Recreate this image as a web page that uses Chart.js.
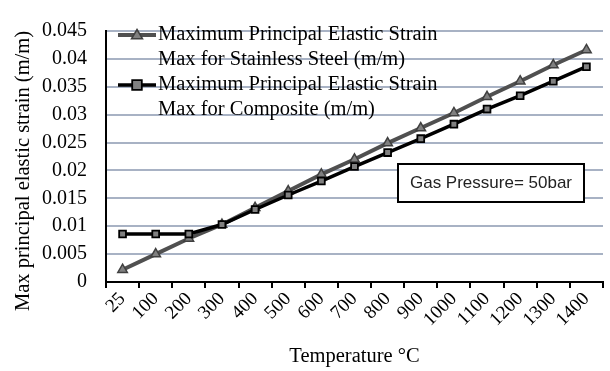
<!DOCTYPE html>
<html>
<head>
<meta charset="utf-8">
<script src="https://cdn.jsdelivr.net/npm/chart.js@4/dist/chart.umd.min.js"></script>
<style>
  html, body { margin: 0; padding: 0; background: #fff; }
  #wrap { width: 610px; height: 371px; }
</style>
</head>
<body>
<div id="wrap"><canvas id="strainChart" width="610" height="371"></canvas></div>
<script>
const temps = ['25', '100', '200', '300', '400', '500', '600', '700', '800', '900', '1000', '1100', '1200', '1300', '1400'];
const steelStrain = [0.0022, 0.0050, 0.0078, 0.0103, 0.0133, 0.0163, 0.0193, 0.0220, 0.0249, 0.0276, 0.0303, 0.0332, 0.0360, 0.0389, 0.0416];
const compositeStrain = [0.0086, 0.0086, 0.0086, 0.0103, 0.0130, 0.0156, 0.0181, 0.0207, 0.0232, 0.0257, 0.0283, 0.0310, 0.0334, 0.0360, 0.0386];
const legendLines = [
    ['Maximum Principal Elastic Strain', 'Max for Stainless Steel (m/m)'],
    ['Maximum Principal Elastic Strain', 'Max for Composite (m/m)']
];
const noteText = 'Gas Pressure= 50bar';
const yTitle = 'Max principal elastic strain (m/m)';

const serif = '"Liberation Serif", "Times New Roman", serif';

// legenda dentro l'area del grafico, titolo asse y e riquadro con la pressione
const overlayPlugin = {
    id: 'overlay',
    afterDatasetsDraw(chart) {
        const ctx = chart.ctx;
        const area = chart.chartArea;
        ctx.save();

        // titolo asse y (spostato verso il basso come nell'originale)
        ctx.save();
        ctx.translate(24, 171);
        ctx.rotate(-Math.PI / 2);
        ctx.fillStyle = '#000';
        ctx.font = '20.5px ' + serif;
        ctx.textAlign = 'center';
        ctx.textBaseline = 'middle';
        ctx.fillText(yTitle, 0, 0);
        ctx.restore();

        // riquadro "Gas Pressure"
        const bx = 398, by = 164, bw = 186, bh = 38;
        ctx.fillStyle = '#fff';
        ctx.fillRect(bx, by, bw, bh);
        ctx.strokeStyle = '#000';
        ctx.lineWidth = 2;
        ctx.strokeRect(bx, by, bw, bh);
        ctx.fillStyle = '#222';
        ctx.font = '17px "Liberation Sans", Arial, sans-serif';
        ctx.textAlign = 'center';
        ctx.textBaseline = 'middle';
        ctx.fillText(noteText, bx + bw / 2, by + bh / 2 + 0.5);

        // legenda
        const rows = [35, 85];
        chart.data.datasets.forEach((ds, i) => {
            const y = rows[i];
            const x0 = area.left + 12, x1 = area.left + 50;
            ctx.strokeStyle = ds.borderColor;
            ctx.lineWidth = ds.borderWidth;
            ctx.beginPath();
            ctx.moveTo(x0, y);
            ctx.lineTo(x1, y);
            ctx.stroke();
            ctx.fillStyle = ds.pointBackgroundColor;
            ctx.strokeStyle = ds.pointBorderColor;
            ctx.lineWidth = ds.pointBorderWidth;
            const cx = (x0 + x1) / 2, r = ds.pointRadius;
            ctx.beginPath();
            if (ds.pointStyle === 'triangle') {
                ctx.moveTo(cx, y - r);
                ctx.lineTo(cx + r, y + r * 0.7);
                ctx.lineTo(cx - r, y + r * 0.7);
                ctx.closePath();
            } else {
                ctx.rect(cx - r, y - r, r * 2, r * 2);
            }
            ctx.fill();
            ctx.stroke();
            ctx.fillStyle = '#000';
            ctx.font = '20.5px ' + serif;
            ctx.textAlign = 'left';
            ctx.textBaseline = 'middle';
            legendLines[i].forEach((t, k) => ctx.fillText(t, x1 + 2, y + k * 25));
        });
        ctx.restore();
    }
};

function drawChart() {
    const ctx = document.getElementById('strainChart').getContext('2d');
    new Chart(ctx, {
        type: 'line',
        data: {
            labels: temps,
            datasets: [{
                label: legendLines[0].join(' '),
                data: steelStrain,
                borderColor: '#505050',
                borderWidth: 4,
                pointStyle: 'triangle',
                pointRadius: 5.5,
                pointBackgroundColor: '#808080',
                pointBorderColor: '#404040',
                pointBorderWidth: 1.5,
                order: 1
            }, {
                label: legendLines[1].join(' '),
                data: compositeStrain,
                borderColor: '#000',
                borderWidth: 3.5,
                pointStyle: 'rect',
                pointRadius: 4.8,
                pointBackgroundColor: '#808080',
                pointBorderColor: '#000',
                pointBorderWidth: 1.8,
                order: 0
            }]
        },
        options: {
            responsive: false,
            animation: false,
            layout: { padding: { top: 18, right: 4, left: 0, bottom: 0 } },
            plugins: { legend: { display: false }, tooltip: { enabled: false } },
            scales: {
                x: {
                    offset: true,
                    afterFit: s => { s.height = 89; },
                    grid: { drawOnChartArea: false, drawTicks: true, tickLength: 6, color: '#000', lineWidth: 2, offset: true },
                    border: { color: '#000', width: 2 },
                    ticks: { color: '#000', font: { family: serif, size: 19 }, autoSkip: false, minRotation: 45, maxRotation: 45, padding: 0 },
                    title: { display: true, text: 'Temperature \u00B0C', color: '#000', font: { family: serif, size: 20.5 }, padding: { top: 0, bottom: 2 } }
                },
                y: {
                    min: 0,
                    max: 0.045,
                    afterFit: s => { s.width = 106; },
                    ticks: {
                        stepSize: 0.005,
                        color: '#000',
                        font: { family: serif, size: 20 },
                        padding: 19,
                        callback: v => String(Number(v.toFixed(3)))
                    },
                    grid: { color: '#a8b2c4', lineWidth: 2, drawTicks: false },
                    border: { color: '#000', width: 2 },
                    title: { display: false }
                }
            }
        },
        plugins: [overlayPlugin]
    });
}

Promise.all([
    document.fonts.load('20px "Liberation Serif"'),
    document.fonts.load('17px "Liberation Sans"')
]).then(drawChart, drawChart);
</script>
</body>
</html>
